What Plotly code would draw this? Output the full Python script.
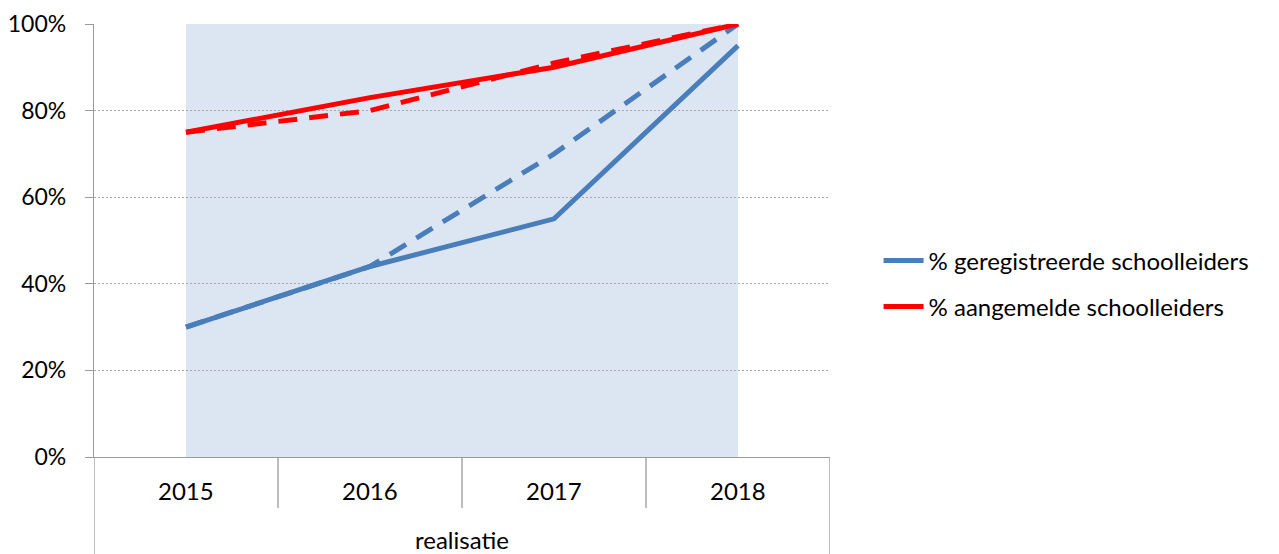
import plotly.graph_objects as go

years = ["2015", "2016", "2017", "2018"]
group_label = "realisatie"
geregistreerd = [0.30, 0.44, 0.55, 0.95]
geregistreerd_plan = [0.30, 0.44, 0.70, 1.00]
aangemeld = [0.75, 0.83, 0.90, 1.00]
aangemeld_plan = [0.75, 0.80, 0.91, 1.00]
y_ticks = [0, 0.2, 0.4, 0.6, 0.8, 1.0]

BLUE = "#4A7EBB"
RED = "#FF0000"
GRAY = "#9A9A9A"
FONT = "Lato, Liberation Sans, sans-serif"
FS = 24

xs = list(range(len(years)))

fig = go.Figure()
fig.add_trace(go.Scatter(x=xs, y=geregistreerd_plan, mode="lines", showlegend=False,
                         line=dict(color=BLUE, width=5, dash="19px,12px")))
fig.add_trace(go.Scatter(x=xs, y=aangemeld_plan, mode="lines", showlegend=False,
                         line=dict(color=RED, width=5, dash="19px,12px")))
fig.add_trace(go.Scatter(x=xs, y=geregistreerd, mode="lines", name="% geregistreerde schoolleiders",
                         legendgroup="a", line=dict(color=BLUE, width=5)))
fig.add_trace(go.Scatter(x=xs, y=aangemeld, mode="lines", name="% aangemelde schoolleiders",
                         legendgroup="b", line=dict(color=RED, width=5)))

shapes = []
shapes.append(dict(type="rect", xref="x", yref="paper", x0=xs[0], x1=xs[-1], y0=0, y1=1,
                   fillcolor="#DCE6F2", line=dict(width=0), layer="below"))
n = len(years)
for i in range(n + 1):
    xb = i - 0.5
    y0 = -0.224 if i in (0, n) else -0.118
    shapes.append(dict(type="line", xref="x", yref="paper", x0=xb, x1=xb, y0=0, y1=y0,
                       line=dict(color=GRAY, width=1.3)))

annotations = []
for i, yr in enumerate(years):
    annotations.append(dict(x=i, y=-0.078, xref="x", yref="paper", text=yr, showarrow=False,
                            yanchor="middle",
                            font=dict(size=FS, color="#000000", family=FONT)))
annotations.append(dict(x=(n - 1) / 2, y=-0.191, xref="x", yref="paper", text=group_label,
                        showarrow=False, yanchor="middle",
                        font=dict(size=FS, color="#000000", family=FONT)))

fig.update_layout(
    width=1279, height=554,
    margin=dict(l=94, r=449, t=24, b=97, autoexpand=False),
    paper_bgcolor="white", plot_bgcolor="white",
    font=dict(family=FONT, size=FS, color="#000000"),
    shapes=shapes, annotations=annotations,
    legend=dict(x=1.066, y=0.40, xanchor="left", yanchor="middle", traceorder="grouped",
                font=dict(size=FS, family=FONT, color="#000000"),
                tracegroupgap=12, itemwidth=40, bgcolor="rgba(0,0,0,0)"),
    showlegend=True,
)
fig.update_xaxes(range=[-0.5, n - 0.5], showticklabels=False, showgrid=False, zeroline=False,
                 showline=True, linecolor=GRAY, linewidth=1.3, ticks="")
fig.update_yaxes(range=[0, 1], tickvals=y_ticks, tickformat=".0%", showgrid=True,
                 gridcolor="#A6A6A6", griddash="2px,2px", gridwidth=1, zeroline=False,
                 showline=True, linecolor=GRAY, linewidth=1.3, ticks="outside",
                 ticklen=8, tickcolor=GRAY, tickwidth=1.3, ticklabelstandoff=14,
                 tickfont=dict(size=23, family=FONT, color="#000000"))

fig.write_html("out.html", config={"displayModeBar": False},
               post_script="document.body.style.margin='0';")
